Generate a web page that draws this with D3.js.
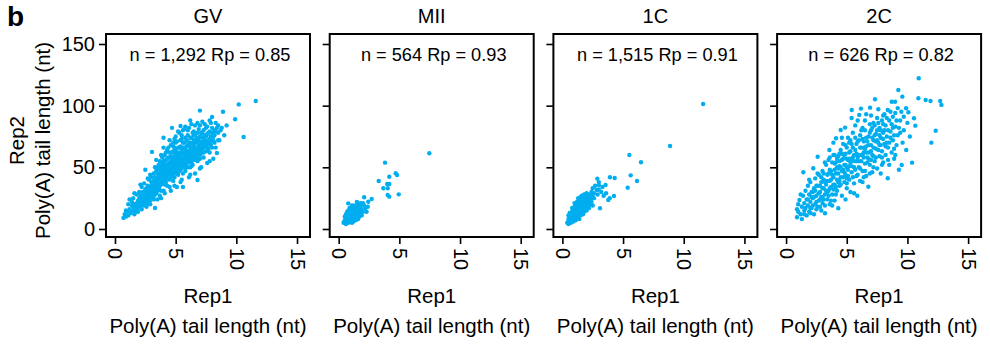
<!DOCTYPE html>
<html><head><meta charset="utf-8">
<script src="https://cdn.jsdelivr.net/npm/d3@7"></script>
<style>
body{margin:0;background:#fff}
svg{display:block;font-family:"Liberation Sans",Arial,Helvetica,sans-serif}
</style>
</head><body>
<svg id="chart" width="990" height="345"></svg>
<script>
// Stage names, per-stage annotation values and axis ticks
const stages = ["GV", "MII", "1C", "2C"];
const geneCounts = ["1,292", "564", "1,515", "626"];
const pearsonR = ["0.85", "0.93", "0.91", "0.82"];
const xTicks = [0, 5, 10, 15];
const yTicks = [0, 50, 100, 150];

// Tail length pairs [Rep1, Rep2] per stage
const gvPoints = [
[0.7,9],[0.8,12],[0.9,10],[1.0,14],[1.1,11],[1.2,16],[0.9,15],[1.3,13],[1.4,19],[1.5,15],[1.1,20],[1.6,12],[1.2,24],[1.7,17],[1.8,21],[1.5,25],[1.9,14],[2.0,18],[2.1,24],[1.8,28],[2.2,16],[2.3,21],[2.0,30],[2.4,26],[2.5,19],[2.2,34],[2.6,23],[2.7,29],[2.4,37],[2.8,25],[2.9,20],[2.5,48],[3.0,27],[2.6,33],[3.1,31],[3.2,24],[2.8,40],[3.3,17],[3.3,35],[3.0,38],[3.4,29],[3.5,41],[3.05,62.5],[3.6,33],[3.2,45],[3.7,27],[3.8,38],[3.5,50],[3.9,44],[4.0,31],[3.7,55],[4.0,74],[4.1,36],[4.2,48],[3.9,58],[4.3,41],[4.4,53],[4.5,34],[4.2,62],[4.6,46],[4.7,57],[4.8,39],[4.4,66],[4.7,82],[4.9,50],[5.0,61],[5.1,34],[4.8,70],[5.2,44],[5.3,55],[5.0,75],[5.4,67],[5.4,83.5],[5.5,40],[5.6,34],[5.6,51],[5.3,78],[5.7,62],[5.8,47],[5.9,72],[6.0,56],[5.8,83],[6.1,42],[6.2,66],[6.3,51],[6.4,78],[6.5,60],[6.6,45],[6.3,85],[6.7,70],[6.8,39.7],[6.8,55],[6.9,81],[7.0,64],[7.0,96],[7.1,50],[7.2,74],[7.3,58],[7.4,85],[7.5,68],[7.6,53.5],[7.7,78],[7.8,62],[7.9,86],[8.0,71],[8.0,90.8],[8.1,57],[8.2,80],[8.3,66],[8.4,61.6],[8.5,78],[8.6,72],[8.9,95],[9.9,89],[10.2,101],[11.6,103.8],[10.6,74.6],[9.2,84],
[1.4,22],[1.6,20],[1.7,14],[1.9,23],[2.0,25],[2.1,20],[2.2,27],[2.3,30],[2.3,24],[2.4,22],[2.5,28],[2.5,32],[2.6,26],[2.7,35],[2.7,22],[2.8,30],[2.9,34],[2.9,28],[3.0,32],[3.0,42],[3.1,36],[3.1,26],[3.2,39],[3.2,30],[3.3,42],[3.3,28],[3.4,37],[3.4,47],[3.5,31],[3.5,36],[3.6,44],[3.6,39],[3.6,52],[3.7,35],[3.7,48],[3.8,42],[3.8,31],[3.9,50],[3.9,37],[4.0,46],[4.0,40],[4.0,55],[4.1,43],[4.1,51],[4.1,60],[4.2,38],[4.2,45],[4.3,49],[4.3,57],[4.3,35],[4.4,44],[4.4,47],[4.5,51],[4.5,40],[4.5,62],[4.6,55],[4.6,42],[4.6,68],[4.7,48],[4.7,52],[4.8,45],[4.8,58],[4.8,63],[4.9,42],[4.9,54],[4.9,66],[5.0,47],[5.0,52],[5.0,57],[5.1,49],[5.1,62],[5.1,71],[5.2,53],[5.2,58],[5.2,46],[5.3,60],[5.3,50],[5.3,66],[5.4,48],[5.4,57],[5.5,52],[5.5,62],[5.5,73],[5.6,56],[5.6,66],[5.6,45],[5.7,53],[5.7,58],[5.7,70],[5.8,52],[5.8,61],[5.8,65],[5.9,56],[5.9,63],[6.0,50],[6.0,60],[6.0,68],[6.0,76],[6.1,54],[6.1,63],[6.2,58],[6.2,70],[6.2,50],[6.3,62],[6.3,74],[6.4,56],[6.4,65],[6.4,52],[6.5,68],[6.5,72],[6.6,62],[6.6,56],[6.6,76],[6.7,59],[6.7,66],[6.8,63],[6.8,73],[6.9,57],[6.9,68],[7.0,60],[7.0,71],[7.1,65],[7.1,78],[7.2,62],[7.2,69],[7.3,66],[7.3,80],[7.4,72],[7.5,63],[7.5,75],[7.6,70],[7.7,65],[7.8,73],[7.9,68],[8.0,78],[8.1,75],[8.2,70],[8.4,82],[8.7,80],[9.0,76],
[5.6,80],[6.1,82],[6.6,84],[7.2,87],[7.6,83],[8.3,86],[8.8,82],[5.2,79],[4.5,72],[4.0,66],[3.4,56],[2.9,44],[2.1,36],[1.6,29],
[2.6,18],[3.5,24],[4.1,29],[4.9,35],[5.4,38],[6.2,44],[7.0,49],[7.8,55],[3.8,25],[4.6,31],
[1.5,18],[1.8,16],[1.9,19],[2.0,21],[2.1,27],[2.2,23],[2.3,19],[2.4,28],[2.5,24],[2.6,30],[2.6,20],[2.7,25],[2.8,33],[2.8,27],[2.9,23],[2.9,31],[3.0,29],[3.0,35],[3.1,33],[3.1,28],[3.2,36],[3.2,27],[3.3,33],[3.3,39],[3.4,31],[3.4,35],[3.4,41],[3.5,38],[3.5,45],[3.6,35],[3.6,41],[3.7,38],[3.7,44],[3.7,51],[3.8,36],[3.8,46],[3.8,40],[3.9,41],[3.9,47],[3.9,53],[4.0,43],[4.0,38],[4.0,49],[4.1,39],[4.1,47],[4.1,55],[4.2,42],[4.2,52],[4.2,56],[4.3,46],[4.3,52],[4.3,43],[4.4,49],[4.4,41],[4.4,58],[4.5,45],[4.5,54],[4.5,48],[4.6,50],[4.6,59],[4.6,45],[4.7,54],[4.7,44],[4.7,62],[4.8,48],[4.8,55],[4.8,67],[4.9,46],[4.9,57],[4.9,59],[5.0,50],[5.0,55],[5.0,64],[5.1,45],[5.1,54],[5.1,58],[5.2,50],[5.2,61],[5.2,66],[5.3,47],[5.3,57],[5.3,62],[5.4,51],[5.4,60],[5.4,72],[5.5,55],[5.5,49],[5.5,65],[5.6,53],[5.6,62],[5.6,70],[5.7,56],[5.7,60],[5.7,66],[5.8,58],[5.8,50],[5.8,74],[5.9,59],[5.9,67],[5.9,53],[6.0,58],[6.0,63],[6.0,71],[6.1,57],[6.1,60],[6.1,68],[6.2,56],[6.2,63],[6.2,74],[6.3,58],[6.3,66],[6.3,54],[6.4,61],[6.4,69],[6.5,57],[6.5,63],[6.5,76],[6.6,59],[6.6,65],[6.6,71],[6.7,62],[6.7,73],[6.8,60],[6.8,66],[6.8,78],[6.9,64],[6.9,74],[7.0,57],[7.0,67],[7.0,75],[7.1,62],[7.1,70],[7.2,65],[7.2,77],[7.3,62],[7.3,71],[7.4,67],[7.4,76],[7.5,70],[7.6,66],[7.6,77],[7.7,72],[7.8,69],[7.8,79],[7.9,75],[8.0,66],[8.1,72],[8.2,76],[8.3,79],[8.5,72],
[5.0,70],[5.5,76],[6.0,80],[6.5,79],[7.0,84],[7.5,82],[8.0,82],[8.5,84],[6.8,86],[6.2,88],[5.7,81],[7.8,88],[4.3,64],[3.8,60],[3.3,50],[2.7,41],[4.9,73]
];

const miiPoints = [
[0.4,5],[0.5,7],[0.6,4],[0.6,9],[0.7,6],[0.7,11],[0.8,8],[0.8,5],[0.9,10],[0.9,13],[1.0,7],[1.0,12],[1.0,16],[1.1,9],[1.1,14],[1.2,6],[1.2,11],[1.2,18],[1.3,13],[1.3,9],[1.4,15],[1.4,11],[1.5,8],[1.5,17],[1.5,13],[1.6,12],[1.6,20],[1.7,15],[1.7,10],[1.8,18],[1.8,13],[1.9,16],[2.0,21],[2.0,14],[2.1,25.7],[2.2,17],[2.3,14],[2.44,22.1],[2.72,24.3],[0.79,20.8],[1.1,19],[0.9,17],[0.5,10],[0.7,14],[1.3,16],[1.6,8],[1.9,11],[2.1,19],[1.4,7],[0.6,12],[1.1,5],[0.8,15],[1.5,22],[1.7,18],[1.2,14],[1.0,10],[0.9,6],[1.3,19],[1.8,21],[2.4,18],
[7.47,61.4],[3.82,53.8],[4.17,42.4],[4.70,45.2],[4.81,43.8],[3.30,38.9],[4.0,36.5],[4.17,36.5],[3.68,33.0],[4.04,33.0],[4.95,28.1],[4.04,27.6],[4.17,26.2]
];

const c1Points = [
[0.4,5],[0.5,4],[0.5,8],[0.6,6],[0.6,10],[0.7,5],[0.7,8],[0.7,12],[0.8,7],[0.8,10],[0.8,14],[0.9,6],[0.9,9],[0.9,12],[0.9,16],[1.0,8],[1.0,11],[1.0,14],[1.0,18],[1.1,7],[1.1,10],[1.1,13],[1.1,17],[1.1,20],[1.2,9],[1.2,12],[1.2,15],[1.2,19],[1.2,22],[1.3,10],[1.3,14],[1.3,17],[1.3,21],[1.4,8],[1.4,12],[1.4,16],[1.4,19],[1.4,24],[1.5,11],[1.5,14],[1.5,18],[1.5,22],[1.5,26],[1.6,13],[1.6,16],[1.6,20],[1.6,25],[1.7,12],[1.7,15],[1.7,19],[1.7,23],[1.7,27],[1.8,14],[1.8,18],[1.8,22],[1.8,26],[1.9,16],[1.9,20],[1.9,24],[1.9,28],[2.0,15],[2.0,19],[2.0,23],[2.0,27],[2.1,18],[2.1,22],[2.1,26],[2.2,17],[2.2,21],[2.2,25],[2.3,20],[2.3,24],[2.3,27.6],[2.4,22],[2.5,19],[2.6,25],[2.83,31.6],[2.6,29],[2.4,30],[0.6,13],[0.8,17],[1.0,21],[1.3,25],[0.5,11],
[0.5,6],[0.6,8],[0.7,10],[0.8,12],[0.9,14],[1.0,16],[1.1,15],[1.2,17],[1.3,19],[1.4,21],[1.5,20],[1.6,22],[1.7,21],[1.8,24],[1.9,22],[2.0,25],[2.1,24],[2.2,23],[1.6,18],[1.4,14],[1.2,10],[1.0,9],[0.8,9],[1.3,12],[1.5,16],[1.7,17],[1.9,18],[2.1,20],[2.3,22],[2.5,26],[2.2,28],[2.0,29],[1.8,28],[1.6,27],[2.4,27],
[11.6,101.4],[8.87,67.3],[5.52,60],[6.48,54.1],[5.63,43.5],[6.15,38.9],[5.38,33.5],[3.92,41.9],[4.31,41.4],[2.88,40.8],[4.25,26.8],[3.10,16.8],[3.78,23.5],[3.01,35.7],[3.56,35.7],[3.0,32],[3.2,30],[2.9,28],[3.4,27],[3.3,34],[2.7,35],[3.0,38],[3.6,29],[3.9,25],[2.5,33]
];

const c2Points = [
[0.9,9.5],[1.0,14],[1.1,23.5],[1.2,12],[1.3,18],[1.42,46],[1.4,27],[1.5,15],[1.5,21],[1.6,31],[1.7,11],[1.7,24],[1.8,19],[1.8,35],[1.9,14],[1.9,28],[2.0,22],[2.0,38],[2.1,17],[2.1,30],[2.2,25],[2.24,49.2],[2.3,12],[2.3,33],[2.4,20],[2.4,41],[2.5,27],[2.5,16],[2.6,35],[2.6,58.6],[2.7,23],[2.7,44],[2.8,30],[2.8,18],[2.9,38],[2.9,26],[3.0,47],[3.0,21],[3.1,33],[3.1,40],[3.21,12.7],[3.2,28],[3.3,52],[3.3,36],[3.4,24],[3.4,44],[3.5,31],[3.5,56],[3.57,64.1],[3.6,39],[3.6,20],[3.7,47],[3.7,34],[3.8,28],[3.8,54],[3.9,42],[3.9,60],[4.0,36],[4.0,48],[4.0,23],[4.12,73.6],[4.1,54],[4.2,40],[4.2,31],[4.3,59],[4.30,16.8],[4.3,45],[4.4,51],[4.4,35],[4.5,80.3],[4.5,64],[4.5,42],[4.6,56],[4.6,27],[4.7,48],[4.7,69],[4.8,38],[4.8,60],[4.86,82.2],[4.9,52],[4.9,44],[5.0,66],[5.0,33],[5.0,57],[5.1,48],[5.1,74],[5.2,40],[5.2,62],[5.3,54],[5.3,30],[5.4,69],[5.41,96.5],[5.4,46],[5.5,58],[5.5,78],[5.6,50],[5.6,37],[5.7,64],[5.7,84],[5.8,55],[5.87,27],[5.9,71],[5.9,44],[6.0,60],[6.03,92.5],[6.0,50],[6.1,76],[6.17,97.6],[6.1,39],[6.2,66],[6.2,55],[6.3,82],[6.3,47],[6.4,62],[6.4,71],[6.5,53],[6.5,88],[6.6,67],[6.6,43],[6.7,58],[6.78,34.3],[6.8,75],[6.8,62],[6.92,98.4],[6.9,52],[7.0,80],[7.0,68],[7.1,46],[7.1,60],[7.2,86],[7.2,72],[7.33,105.2],[7.3,55],[7.4,77],[7.4,65],[7.5,49],[7.5,90],[7.6,97.1],[7.6,70],[7.7,59],[7.7,82],[7.8,74],[7.8,45],[7.9,63],[7.9,88],[8.0,78],[8.0,54],[8.1,69],[8.1,93],[8.2,84],[8.2,60],[8.3,75],[8.38,96.5],[8.38,41.1],[8.4,66],[8.5,88],[8.5,52],[8.6,79],[8.71,103.2],[8.7,62],[8.8,72],[8.8,91],[8.98,103.2],[8.9,57],[9.0,83],[9.1,68],[9.25,112.7],[9.2,76],[9.3,48],[9.4,88],[9.53,51.9],[9.58,107.3],[9.6,70],[9.7,80],[9.89,97.9],[10.08,94.6],[10.38,53.8],[10.54,89.8],[10.65,83.8],[10.9,106],[10.93,122.2],[11.5,104.6],[11.9,103.8],[11.97,70],[12.33,79.7],[12.7,103.8],[12.8,100.6],[9.9,64],[10.2,75],
[1.3,8],[1.6,17],[2.0,13],[2.2,19],[2.5,22],[2.7,29],[3.0,26],[3.2,19],[3.3,31],[3.5,27],[3.7,23],[3.9,32],[4.1,28],[4.2,50],[4.4,39],[4.6,47],[4.8,52],[5.0,41],[5.2,51],[5.4,57],[5.5,42],[5.7,48],[5.8,61],[6.0,55],[6.2,60],[6.4,58],[6.6,62],[6.8,57],[7.0,63],[7.2,66],[7.4,71],[7.6,64],[7.8,68],[8.0,73],[8.3,70],[8.6,74],[2.1,26],[2.4,31],[2.8,35],[3.1,45],[3.4,39],[3.6,48],[3.8,44],[4.1,45],[4.3,38],[4.5,50],[4.7,57],[4.9,61],[5.1,56],[5.3,63],[5.6,60],[5.8,69],[6.1,66],[6.3,73],[6.5,65],[6.7,71],[6.9,78],[7.1,74],[7.3,84],[7.5,80],[7.7,76],[8.0,85],[8.4,80],[8.8,82],[9.0,94],[9.2,98],[9.4,78],[9.7,91],[10.0,86],[5.9,88],[6.5,80],[7.0,92],[4.0,60],[3.6,58],[5.2,70],[4.4,61],[6.9,45],[7.9,52],[8.9,65],[5.6,29],[4.9,24],[6.3,38],[1.9,40],[2.6,45],[3.2,54],[1.2,28],[1.0,20],[0.9,16],
[1.5,12],[1.8,24],[2.0,17],[2.2,30],[2.3,26],[2.5,35],[2.6,18],[2.8,24],[2.9,42],[3.0,33],[3.1,24],[3.2,38],[3.4,30],[3.5,45],[3.6,33],[3.7,40],[3.9,36],[4.0,53],[4.1,34],[4.2,57],[4.3,49],[4.4,55],[4.5,36],[4.6,61],[4.7,42],[4.8,46],[4.9,68],[5.0,50],[5.1,43],[5.2,57],[5.3,72],[5.4,51],[5.5,66],[5.6,55],[5.7,74],[5.8,43],[5.9,58],[6.0,72],[6.1,49],[6.2,80],[6.3,60],[6.4,66],[6.5,47],[6.6,74],[6.7,54],[6.8,68],[6.9,85],[7.0,56],[7.1,82],[7.2,59],[7.3,76],[7.4,58],[7.5,72],[7.6,86],[7.7,68],[7.8,80],[7.9,58],[8.0,92],[8.1,80],[8.2,67],[8.3,90],[8.5,70],[8.6,95],[8.7,85],[8.9,76],[9.1,88],[9.3,82],[9.5,95],[9.0,60],[8.4,56],[7.2,50],[6.4,42],[5.0,37],[3.8,19],[2.9,15],[4.6,74],[3.9,70],[5.4,90],[6.6,93]
];

const panelPoints = [gvPoints, miiPoints, c1Points, c2Points];

const svg = d3.select("#chart");
const box = {left: 106, top: 34, width: 204, height: 203, step: 223.7};
const dotColor = "#00aeef";

const x = d3.scaleLinear().domain([-0.74, 16.07]).range([0, box.width]);
const y = d3.scaleLinear().domain([-6.5, 158.1]).range([box.height, 0]);

// Panel letter
svg.append("text")
  .attr("x", 7).attr("y", 26)
  .attr("font-size", 28).attr("font-weight", "bold")
  .text("b");

// Shared y-axis title
const yTitleG = svg.append("g")
  .attr("transform", `translate(0,${box.top + box.height / 2 + 5})`);
yTitleG.append("text")
  .attr("transform", "translate(24,0) rotate(-90)")
  .attr("text-anchor", "middle").attr("font-size", 20.5)
  .text("Rep2");
yTitleG.append("text")
  .attr("transform", "translate(50,0) rotate(-90)")
  .attr("text-anchor", "middle").attr("font-size", 20.5)
  .text("Poly(A) tail length (nt)");

stages.forEach((stage, i) => {
  const g = svg.append("g")
    .attr("transform", `translate(${box.left + i * box.step},${box.top})`);

  // Points
  g.append("g").selectAll("circle")
    .data(panelPoints[i])
    .join("circle")
    .attr("cx", d => x(d[0]))
    .attr("cy", d => y(d[1]))
    .attr("r", 2.2)
    .attr("fill", dotColor);

  // Y axis (labels only on the first panel)
  const yAxis = g.append("g")
    .call(d3.axisLeft(y).tickValues(yTicks).tickSize(7).tickPadding(4)
      .tickFormat(i === 0 ? d3.format("d") : () => ""));
  yAxis.select(".domain").remove();
  yAxis.selectAll("line").attr("stroke-width", 1.6);
  yAxis.selectAll("text").attr("font-size", 20).attr("fill", "#000")
    .attr("font-family", "Liberation Sans, Arial, sans-serif");

  // X axis with vertical labels
  const xAxis = g.append("g")
    .attr("transform", `translate(0,${box.height})`)
    .call(d3.axisBottom(x).tickValues(xTicks).tickSize(7).tickFormat(d3.format("d")));
  xAxis.select(".domain").remove();
  xAxis.selectAll("line").attr("stroke-width", 1.6);
  xAxis.selectAll("text")
    .attr("font-size", 20).attr("fill", "#000")
    .attr("font-family", "Liberation Sans, Arial, sans-serif")
    .attr("transform", "rotate(90)")
    .attr("x", 11).attr("y", 0).attr("dy", "0.35em")
    .attr("text-anchor", "start");

  // Frame
  g.append("rect")
    .attr("width", box.width).attr("height", box.height)
    .attr("fill", "none").attr("stroke", "#000").attr("stroke-width", 2);

  // Stage title
  g.append("text")
    .attr("x", box.width / 2).attr("y", -11)
    .attr("text-anchor", "middle").attr("font-size", 20)
    .text(stage);

  // n / Pearson annotation
  g.append("text")
    .attr("x", box.width / 2 + 2).attr("y", 27)
    .attr("text-anchor", "middle").attr("font-size", 18.2)
    .text(`n = ${geneCounts[i]} Rp = ${pearsonR[i]}`);

  // X-axis titles
  g.append("text")
    .attr("x", box.width / 2).attr("y", box.height + 66)
    .attr("text-anchor", "middle").attr("font-size", 20.5)
    .text("Rep1");
  g.append("text")
    .attr("x", box.width / 2).attr("y", box.height + 96)
    .attr("text-anchor", "middle").attr("font-size", 20.5)
    .text("Poly(A) tail length (nt)");
});
</script>
</body></html>
